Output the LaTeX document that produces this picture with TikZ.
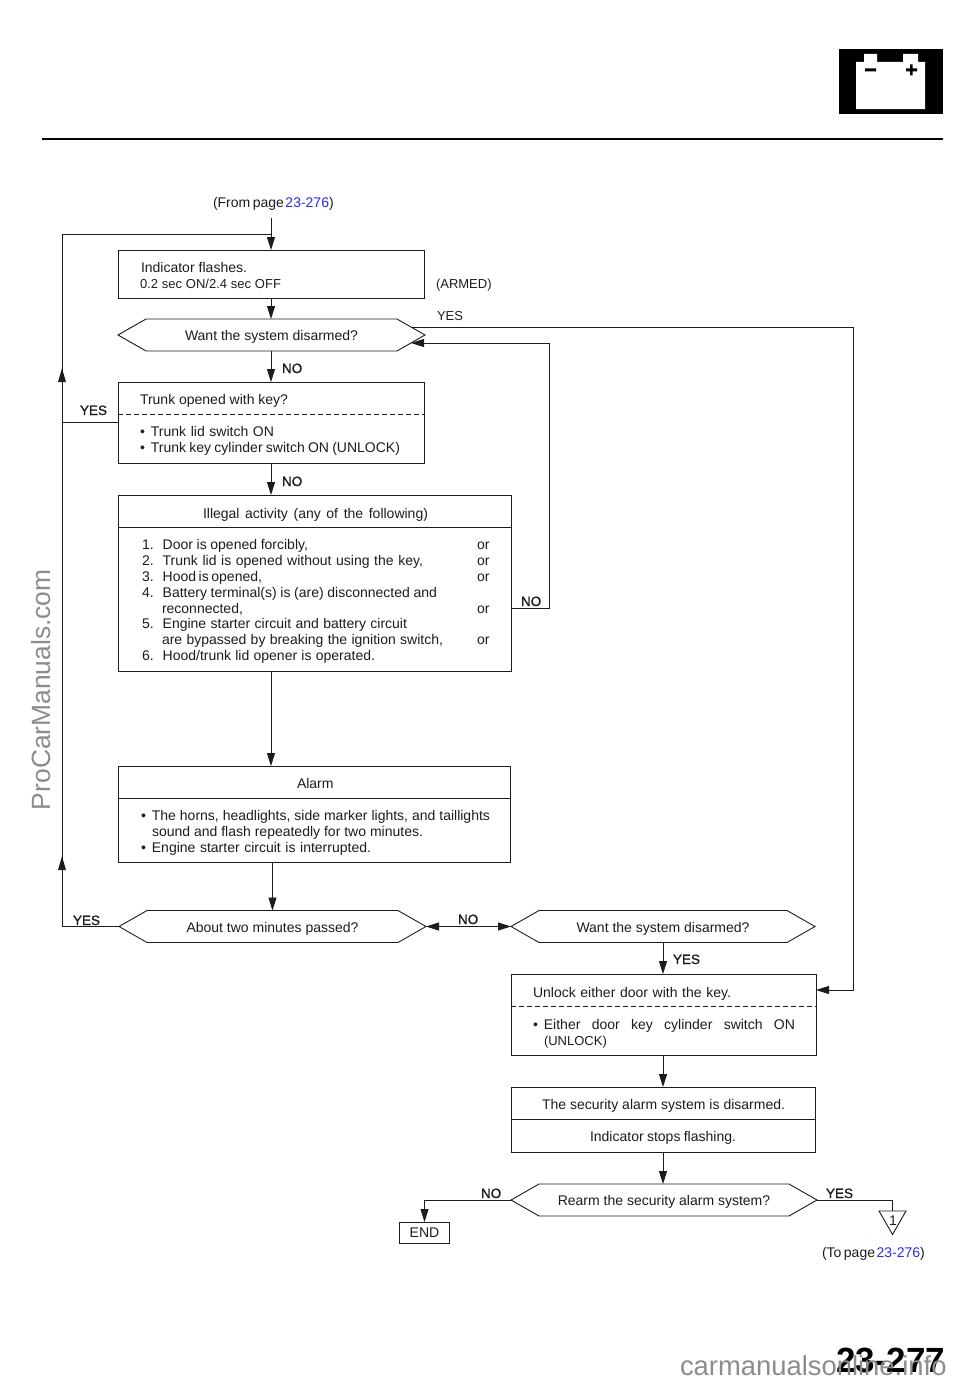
\documentclass[tikz,border=0pt]{standalone}
\usepackage{fontspec}
\setmainfont{Liberation Sans}
\newfontfamily\labfont[FakeBold=1.2]{Liberation Sans}
\usetikzlibrary{arrows.meta,shapes.misc,calc}
\definecolor{ink}{HTML}{1C1C1C}
\definecolor{linkblue}{HTML}{2A2AF0}
\definecolor{wm}{HTML}{8C8C8C}
\newcounter{txtno}
\newcommand{\bodyfont}{\fontsize{14}{16}\selectfont}
% x, baseline y, width, text
\newcommand{\T}[4]{\stepcounter{txtno}\node[txt,name=t\thetxtno] at (#1,#2) {\bodyfont\makebox[#3pt][s]{#4}};}
\newcommand{\Ts}[4]{\stepcounter{txtno}\node[txt,name=t\thetxtno] at (#1,#2) {\fontsize{13}{15}\selectfont\makebox[#3pt][s]{#4}};}
\newcommand{\Lab}[3]{\stepcounter{txtno}\node[txt,name=t\thetxtno] at (#1,#2) {\fontsize{13.5}{15}\selectfont\labfont #3};}
\newcommand{\Hx}[1]{\raisebox{-5.5pt}[0pt][0pt]{#1}}
\tikzset{
  x=1pt,y=-1pt,
  txt/.style={anchor=base west,inner sep=0pt,outer sep=0pt,text=ink},
  boxs/.style={draw=ink,line width=0.9pt,inner sep=0pt,outer sep=0pt},
  hexa/.style={draw=ink,line width=0.9pt,chamfered rectangle,chamfered rectangle angle=60.3,chamfered rectangle xsep=28pt,chamfered rectangle ysep=16pt,inner sep=0pt,outer sep=0pt,text=ink,font=\bodyfont},
  conn/.style={draw=ink,line width=0.9pt},
  arr/.style={conn,-{Triangle[length=13pt,width=8pt]}},
}
\begin{document}
\begin{tikzpicture}
\useasboundingbox (0,0) rectangle (960,1381);
% battery symbol
\fill[black] (839,49) rectangle (943,114);
\fill[white] (856,62) rectangle (925,109) (864,54) rectangle (877,63) (903,54) rectangle (918,63);
\fill[black] (865,68.5) rectangle (876,71.5) (906,68.5) rectangle (917,71.5) (910,64.5) rectangle (912.5,75.5);
\draw[black,line width=2pt] (42,139) -- (943,139);
% boxes
\node[boxs,minimum width=306pt,minimum height=48pt] (indic) at (271,274) {};
\node[hexa,minimum width=307pt,minimum height=32pt] (want1) at (271.5,335) {\Hx{Want the system disarmed?}};
\node[boxs,minimum width=306pt,minimum height=81pt] (trunk) at (271,422.5) {};
\node[boxs,minimum width=393pt,minimum height=176pt] (illegal) at (314.5,583) {};
\node[boxs,minimum width=392pt,minimum height=96pt] (alarm) at (314.5,814) {};
\node[hexa,minimum width=307pt,minimum height=32pt] (about) at (272.5,926.5) {\Hx{About two minutes passed?}};
\node[hexa,minimum width=304pt,minimum height=32pt] (want2) at (663,926.5) {\Hx{Want the system disarmed?}};
\node[boxs,minimum width=305pt,minimum height=81pt] (unlock) at (663.5,1014.5) {};
\node[boxs,minimum width=304pt,minimum height=65pt] (secure) at (663,1119.5) {};
\node[hexa,minimum width=306pt,minimum height=32pt] (rearm) at (664,1200) {\Hx{Rearm the security alarm system?}};
\node[boxs,minimum width=50pt,minimum height=21pt,text=ink,font=\bodyfont] (endb) at (424.5,1232.5) {END};
% inner dividers
\draw[conn,dashed,dash pattern=on 5pt off 3pt] (trunk.west |- 0,414) -- (trunk.east |- 0,414);
\draw[conn] (illegal.west |- 0,527) -- (illegal.east |- 0,527);
\draw[conn] (alarm.west |- 0,798) -- (alarm.east |- 0,798);
\draw[conn,dashed,dash pattern=on 5pt off 3pt] (unlock.west |- 0,1006) -- (unlock.east |- 0,1006);
\draw[conn] (secure.west |- 0,1119.5) -- (secure.east |- 0,1119.5);
% triangle connector symbol
\coordinate (tri) at (892.5,1211);
\draw[conn,line join=miter] (tri) ++(-13.5,0) -- ++(27,0) -- (892.5,1234.5) -- cycle;
\node[txt,name=trinum] at (889,1225) {\bodyfont 1};
% free coordinates
\coordinate (start) at (271,218);
\coordinate (loopA) at (271,234);
\coordinate (w1yes) at (411,327);
\coordinate (w1ret) at (411,343);
\coordinate (leftT) at (62,234);
\coordinate (leftB) at (62,926.5);
\coordinate (leftM) at (62,422);
\coordinate (rightT) at (853,327);
\coordinate (retR) at (549,343);
\coordinate (retB) at (549,608);
% connectors
\draw[arr] (start) -- (indic.north);
\draw[conn] (about.west) -- (leftB) -- (leftT) -- (loopA);
\draw[conn] (trunk.west |- leftM) -- (leftM);
\fill[ink] (62,368) -- (58,382) -- (66,382) -- cycle;
\fill[ink] (62,856) -- (58,870) -- (66,870) -- cycle;
\draw[arr] (indic.south) -- (want1.north -| indic.south);
\draw[arr] (want1.south -| trunk.north) -- (trunk.north);
\draw[arr] (trunk.south) -- (trunk.south |- illegal.north);
\draw[arr] (illegal.south -| trunk.south) -- (alarm.north -| trunk.south);
\draw[arr] (alarm.south -| about.north) -- (about.north);
\draw[{Triangle[length=13pt,width=8pt]}-{Triangle[length=13pt,width=8pt]},conn] (about.east) -- (want2.west);
\draw[arr] (want2.south) -- (unlock.north -| want2.south);
\draw[arr] (unlock.south -| want2.south) -- (secure.north -| want2.south);
\draw[arr] (secure.south -| want2.south) -- (rearm.north -| want2.south);
\draw[arr] (rearm.west) -| (endb.north);
\draw[conn] (rearm.east) -| (tri);
\draw[conn] (w1yes) -- (rightT);
\draw[arr] (rightT) |- ($(unlock.east |- 0,990)$);
\draw[arr] (illegal.east |- retB) -- (retB) -- (retR) -- (w1ret);
% texts
\stepcounter{txtno}\node[txt,name=t\thetxtno] at (213,207) {\bodyfont (From\hspace{2.5pt}page\hspace{1.5pt}\textcolor{linkblue}{23-276})};
\T{141}{272}{106}{Indicator flashes.}
\Ts{140}{288}{141}{0.2 sec ON/2.4 sec OFF}
\Ts{436}{288}{55}{(ARMED)}
\Ts{437}{320}{25}{YES}
\Lab{282}{373}{NO}
\Lab{80}{415}{YES}
\T{140}{404}{148}{Trunk opened with key?}
\T{140}{436}{134}{•\hspace{6pt}Trunk lid switch ON}
\T{140}{452}{260}{•\hspace{6pt}Trunk key cylinder switch ON (UNLOCK)}
\Lab{282}{486}{NO}
\T{203}{518}{225}{Illegal activity  (any  of  the following)}
\T{142}{549}{166}{1.\hspace{9pt}Door is opened forcibly,}
\T{142}{565}{281}{2.\hspace{9pt}Trunk lid is opened without using the key,}
\T{142}{581}{119}{3.\hspace{9pt}Hood is opened,}
\T{142}{597}{295}{4.\hspace{9pt}Battery terminal(s) is (are) disconnected and}
\T{162}{613}{80}{reconnected,}
\T{142}{628}{265}{5.\hspace{9pt}Engine starter circuit and battery circuit}
\T{162}{644}{281}{are bypassed by breaking the ignition switch,}
\T{142}{660}{233}{6.\hspace{9pt}Hood/trunk lid opener is operated.}
\T{477}{549}{13}{or}
\T{477}{565}{13}{or}
\T{477}{581}{13}{or}
\T{477}{613}{13}{or}
\T{477}{644}{13}{or}
\Lab{521}{606}{NO}
\T{297}{788}{37}{Alarm}
\T{141}{820}{349}{•\hspace{6pt}The horns, headlights, side marker lights, and taillights}
\T{152}{836}{271}{sound and flash repeatedly for two minutes.}
\T{141}{852}{230}{•\hspace{6pt}Engine starter circuit is interrupted.}
\Lab{73}{925}{YES}
\Lab{458}{924}{NO}
\Lab{673}{964}{YES}
\T{533}{997}{198}{Unlock either door with the key.}
\T{533}{1029}{262}{•\hspace{6pt}Either door key cylinder switch ON}
\Ts{544}{1045}{64}{(UNLOCK)}
\T{542}{1109}{243}{The security alarm system is disarmed.}
\T{590}{1141}{146}{Indicator stops flashing.}
\Lab{481}{1198}{NO}
\Lab{826}{1198}{YES}
\stepcounter{txtno}\node[txt,name=t\thetxtno] at (822,1257) {\bodyfont (To\hspace{2.5pt}page\hspace{1.5pt}\textcolor{linkblue}{23-276})};
% page number and watermarks
\node[txt,name=pageno,text=black] at (836,1372) {\fontsize{35}{37}\selectfont\bfseries 23-277};
\node[txt,name=wmbottom,text=wm] at (680,1375) {\fontsize{27.4}{30}\selectfont carmanualsonline.info};
\node[txt,name=wmleft,text=wm,rotate=90] at (50,810) {\fontsize{26.4}{30}\selectfont ProCarManuals.com};
\end{tikzpicture}
\end{document}
